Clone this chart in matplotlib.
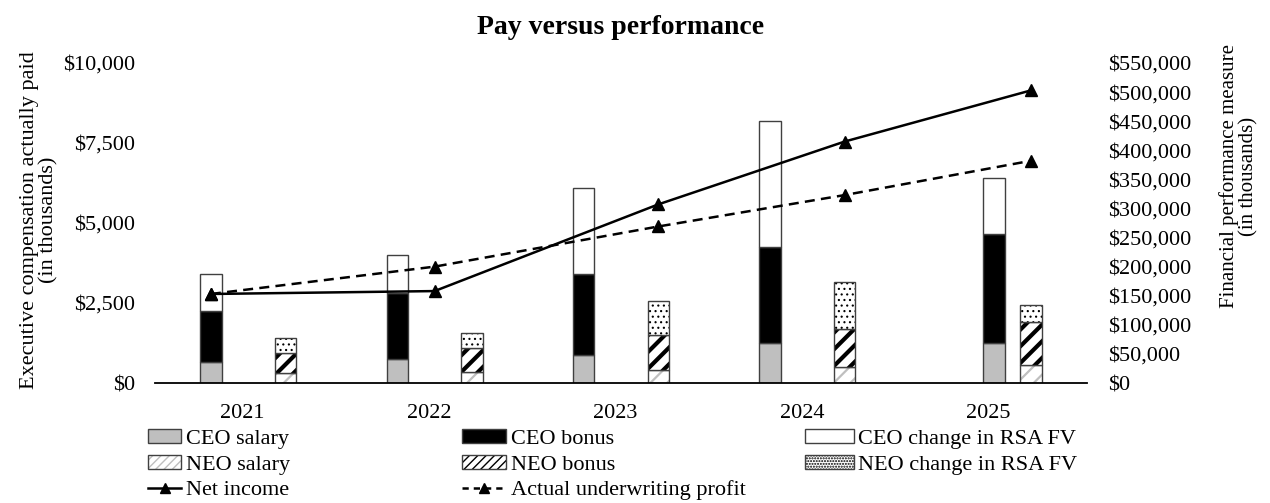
#!/usr/bin/env python3

import matplotlib
matplotlib.use("Agg")
import matplotlib.pyplot as plt
from matplotlib.patches import Patch
from matplotlib.lines import Line2D
from matplotlib.ticker import FuncFormatter
import numpy as np

years = ["2021", "2022", "2023", "2024", "2025"]

# executive compensation actually paid, in thousands
ceo_salary = [650, 750, 875, 1250, 1250]
ceo_bonus = [1600, 2050, 2525, 3000, 3400]
ceo_rsa = [1150, 1200, 2700, 3950, 1750]
neo_salary = [300, 350, 400, 500, 550]
neo_bonus = [650, 750, 1100, 1200, 1350]
neo_rsa = [450, 450, 1050, 1450, 550]

# financial performance measures, in thousands
net_income = [153000, 158000, 307000, 415000, 503000]
uw_profit = [153000, 200000, 269000, 323000, 382000]

# horizontal placement within each year slot (layout, not data)
ceo_shift = [-0.2, -0.2, -0.2, -0.2, 0.0]
neo_shift = [0.2, 0.2, 0.2, 0.2, 0.2]
line_shift = [-0.2, 0.0, 0.2, 0.2, 0.2]

FONT = "Liberation Serif"
plt.rcParams["font.family"] = [FONT, "DejaVu Serif"]
EDGE = "#404040"
LIGHT = "#bfbfbf"
W = 0.115


def hatched_bar(ax, x, h, bottom, hatch, hcolor, hlw):
    # hatch takes the edge colour, so draw fill+hatch first, then the outline
    bars = ax.bar(x, h, W, bottom=bottom, color="white", edgecolor=hcolor,
                  linewidth=0, hatch=hatch)
    for b in bars:
        if hasattr(b, "set_hatch_linewidth"):
            b.set_hatch_linewidth(hlw)
    ax.bar(x, h, W, bottom=bottom, fill=False, edgecolor=EDGE, linewidth=1)


def main():
    fig = plt.figure(figsize=(12.7, 5.03), dpi=100)
    ax = fig.add_axes([155 / 1270, 1 - 383 / 503, 932 / 1270, 320 / 503])

    idx = np.arange(len(years))
    xc = idx + np.array(ceo_shift)
    xn = idx + np.array(neo_shift)
    xl = idx + np.array(line_shift)

    cs = np.array(ceo_salary)
    cb = np.array(ceo_bonus)
    cr = np.array(ceo_rsa)
    ns = np.array(neo_salary)
    nb = np.array(neo_bonus)
    nr = np.array(neo_rsa)

    ax.bar(xc, cs, W, color=LIGHT, edgecolor=EDGE, linewidth=1)
    ax.bar(xc, cb, W, bottom=cs, color="black", edgecolor=EDGE, linewidth=1)
    ax.bar(xc, cr, W, bottom=cs + cb, color="white", edgecolor=EDGE, linewidth=1)

    with plt.rc_context({"hatch.linewidth": 1.6}):
        hatched_bar(ax, xn, ns, 0, "//", LIGHT, 1.6)
    with plt.rc_context({"hatch.linewidth": 3.0}):
        hatched_bar(ax, xn, nb, ns, "//", "black", 3.0)
    with plt.rc_context({"hatch.linewidth": 0.8}):
        hatched_bar(ax, xn, nr, ns + nb, "...", "black", 0.8)

    ax.set_xlim(-0.5, len(years) - 0.5)
    ax.set_ylim(0, 10000)
    ax.set_yticks([0, 2500, 5000, 7500, 10000])
    ax.yaxis.set_major_formatter(FuncFormatter(lambda v, p: "${:,.0f}".format(v)))
    ax.set_xticks(idx - 0.03)
    ax.set_xticklabels(years, fontsize=16)
    ax.tick_params(axis="y", length=0, pad=14.5, labelsize=16)
    ax.tick_params(axis="x", length=0, pad=15)
    for s in ["top", "left", "right"]:
        ax.spines[s].set_visible(False)
    ax.spines["bottom"].set_linewidth(1.3)

    ax2 = ax.twinx()
    ax2.plot(xl, net_income, "-^", color="black", lw=1.8, ms=8)
    ax2.plot(xl, uw_profit, "--^", color="black", lw=1.8, ms=8, dashes=(4, 2.5))
    ax2.set_ylim(0, 550000)
    ax2.set_yticks(np.arange(0, 550001, 50000))
    ax2.yaxis.set_major_formatter(FuncFormatter(lambda v, p: "${:,.0f}".format(v)))
    ax2.tick_params(axis="y", length=0, pad=15, labelsize=16)
    for s in ["top", "left", "right", "bottom"]:
        ax2.spines[s].set_visible(False)

    fig.text(0.489, 1 - 28 / 503, "Pay versus performance", ha="center",
             va="center", fontsize=20, fontweight="bold")
    fig.text(39.5 / 1270, 1 - 220 / 503,
             "Executive compensation actually paid\n(in thousands)",
             rotation=90, ha="center", va="center", fontsize=16, linespacing=1.0)
    fig.text(1238.5 / 1270, 1 - 176 / 503,
             "Financial performance measure\n(in thousands)",
             rotation=90, ha="center", va="center", fontsize=15, linespacing=1.0)

    # legend handles
    h_cs = Patch(facecolor=LIGHT, edgecolor=EDGE)
    h_cb = Patch(facecolor="black", edgecolor=EDGE)
    h_cr = Patch(facecolor="white", edgecolor=EDGE)
    h_ns = (Patch(facecolor="white", edgecolor=LIGHT, hatch="////", linewidth=0),
            Patch(fill=False, edgecolor=EDGE))
    h_nb = (Patch(facecolor="white", edgecolor="black", hatch="////", linewidth=0),
            Patch(fill=False, edgecolor=EDGE))
    h_nr = (Patch(facecolor="white", edgecolor="black", hatch="......", linewidth=0),
            Patch(fill=False, edgecolor=EDGE))
    h_ni = Line2D([], [], color="black", lw=1.8, marker="^", ms=7)
    h_uw = Line2D([], [], color="black", lw=1.8, marker="^", ms=7,
                  linestyle="--", dashes=(2.5, 2))

    cols = [
        ([h_cs, h_ns, h_ni], ["CEO salary", "NEO salary", "Net income"], 148, 1.5),
        ([h_cb, h_nb, h_uw], ["CEO bonus", "NEO bonus", "Actual underwriting profit"], 462, 2.0),
        ([h_cr, h_nr], ["CEO change in RSA FV", "NEO change in RSA FV"], 805, 2.2),
    ]
    for handles, labels, x0, hl in cols:
        fig.legend(handles, labels, loc="upper left",
                   bbox_to_anchor=(x0 / 1270, 1 - 429 / 503),
                   frameon=False, fontsize=16, borderpad=0, borderaxespad=0,
                   handlelength=hl, handleheight=0.6, handletextpad=0.2,
                   labelspacing=0.26, numpoints=1)

    fig.savefig("out.png", dpi=100)


if __name__ == "__main__":
    main()
